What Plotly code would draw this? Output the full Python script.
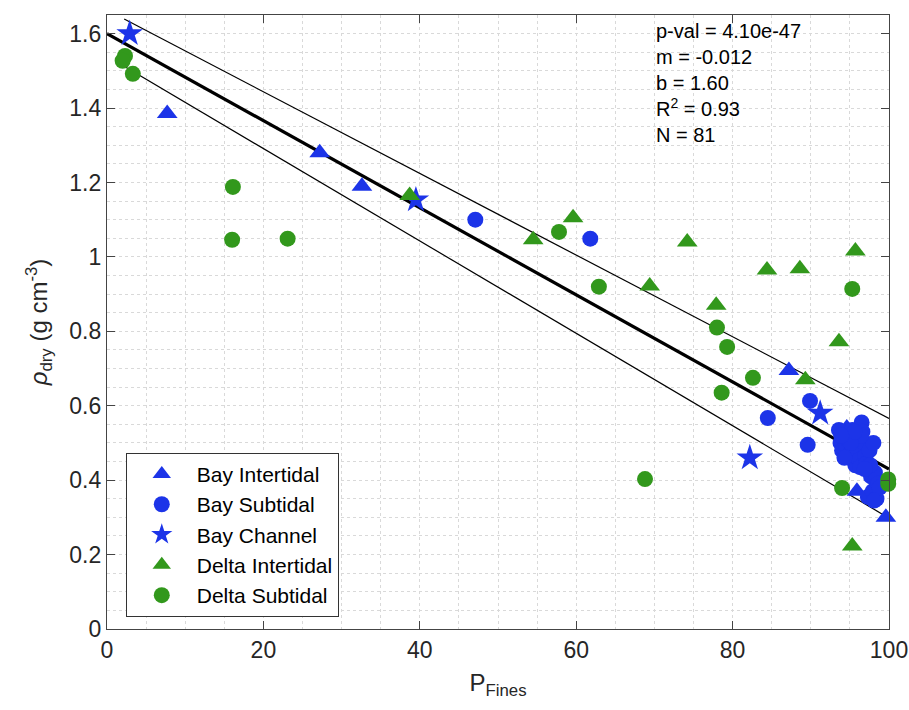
import plotly.graph_objects as go

# ---- data ----
bay_inter_x = [7.7, 27.2, 32.6, 87.2, 94.6, 95.9, 99.6]
bay_inter_y = [1.385, 1.28, 1.19, 0.695, 0.54, 0.37, 0.30]

bay_sub_x = [47.1, 61.8, 84.5, 89.9, 89.6,
             93.6, 93.8, 94.0, 94.2, 94.5, 94.8, 95.0, 95.3, 95.5, 95.7, 95.9, 96.0,
             96.2, 96.3, 96.5, 96.6, 96.8, 97.0, 97.1, 97.3, 97.5, 97.7, 97.9, 98.0,
             98.2, 98.4, 98.6, 98.8, 96.4, 95.1, 94.3, 97.6, 98.1, 96.9, 95.6, 93.9]
bay_sub_y = [1.10, 1.049, 0.567, 0.613, 0.495,
             0.535, 0.50, 0.48, 0.52, 0.49, 0.505, 0.47, 0.535, 0.46, 0.44, 0.51, 0.48,
             0.455, 0.435, 0.555, 0.53, 0.50, 0.465, 0.445, 0.355, 0.48, 0.41, 0.37, 0.50,
             0.42, 0.35, 0.39, 0.38, 0.52, 0.50, 0.46, 0.44, 0.345, 0.43, 0.53, 0.52]

bay_chan_x = [2.9, 39.5, 91.2, 82.2]
bay_chan_y = [1.60, 1.153, 0.58, 0.46]

delta_inter_x = [38.7, 54.5, 59.6, 69.4, 74.2, 77.9, 84.4, 88.6, 95.7, 93.6, 89.3, 95.3]
delta_inter_y = [1.165, 1.046, 1.105, 0.922, 1.04, 0.87, 0.965, 0.968, 1.016, 0.772, 0.67, 0.223]

delta_sub_x = [2.3, 2.0, 3.3, 16.1, 16.0, 23.1, 57.8, 62.9, 78.0, 79.3, 82.6, 78.6,
               68.8, 95.3, 94.0, 99.9, 99.9]
delta_sub_y = [1.54, 1.527, 1.492, 1.188, 1.046, 1.049, 1.067, 0.92, 0.81, 0.758, 0.675, 0.635,
               0.403, 0.914, 0.379, 0.402, 0.39]

fit_m = -0.0117
fit_b = 1.60
fit_x = [0, 100]
band_x = [2.2, 100]
band_upper = [1.639, 0.566]
band_lower = [1.512, 0.298]

stats_lines = ["p-val = 4.10e-47", "m = -0.012", "b = 1.60", "R<sup>2</sup> = 0.93", "N = 81"]

BLUE = "rgb(28,52,232)"
GREEN = "rgb(50,152,28)"
FONT = "Liberation Sans, Arial"

fig = go.Figure()

fig.add_trace(go.Scatter(x=band_x, y=band_upper, mode="lines",
                         line=dict(color="black", width=1.2), showlegend=False, hoverinfo="skip"))
fig.add_trace(go.Scatter(x=band_x, y=band_lower, mode="lines",
                         line=dict(color="black", width=1.2), showlegend=False, hoverinfo="skip"))
fig.add_trace(go.Scatter(x=fit_x, y=[fit_b + fit_m * v for v in fit_x], mode="lines",
                         line=dict(color="black", width=3.2), showlegend=False, hoverinfo="skip"))

def add(x, y, name, color, symbol, size):
    fig.add_trace(go.Scatter(x=x, y=y, mode="markers", name=name, cliponaxis=False,
                             marker=dict(color=color, symbol=symbol, size=size,
                                         line=dict(width=0))))

add(bay_inter_x, bay_inter_y, "Bay Intertidal", BLUE, "triangle-up", 18)
add(bay_sub_x, bay_sub_y, "Bay Subtidal", BLUE, "circle", 16)
add(bay_chan_x, bay_chan_y, "Bay Channel", BLUE, "star", 20)
add(delta_inter_x, delta_inter_y, "Delta Intertidal", GREEN, "triangle-up", 18)
add(delta_sub_x, delta_sub_y, "Delta Subtidal", GREEN, "circle", 16)

axis_common = dict(
    showline=True, linecolor="#444", linewidth=1.2, mirror="ticks",
    ticks="inside", ticklen=8, tickcolor="#444",
    showgrid=True, gridcolor="#d9d9d9", griddash="dot", gridwidth=1,
    zeroline=False, automargin=False, ticklabeloverflow="allow",
    tickfont=dict(family=FONT, size=23, color="#262626"),
)

fig.update_xaxes(range=[0, 100], dtick=20,
                 minor=dict(dtick=5, showgrid=True, gridcolor="#d9d9d9", griddash="dot"),
                 title=dict(text="P<sub>Fines</sub>", font=dict(family=FONT, size=24, color="#262626"), standoff=12),
                 **axis_common)
fig.update_yaxes(range=[0, 1.65], dtick=0.2, tickformat="~g",
                 minor=dict(dtick=0.05, showgrid=True, gridcolor="#d9d9d9", griddash="dot"),
                 title=dict(text="<i>ρ</i><sub>dry</sub> (g cm<sup>-3</sup>)", font=dict(family=FONT, size=24, color="#262626"), standoff=14),
                 **axis_common)

fig.add_annotation(xref="paper", yref="paper", x=0.70, y=0.995, xanchor="left", yanchor="top",
                   text="<br>".join(stats_lines), showarrow=False, align="left",
                   font=dict(family=FONT, size=20, color="black"))

fig.update_layout(
    width=909, height=710,
    margin=dict(l=107, r=20, t=15, b=81),
    plot_bgcolor="white", paper_bgcolor="white",
    legend=dict(x=0.024, y=0.287, xanchor="left", yanchor="top",
                bordercolor="#333", borderwidth=1, bgcolor="white",
                font=dict(family=FONT, size=21, color="black"),
                itemwidth=60, tracegroupgap=0),
)

fig.write_html("out.html", config={"displayModeBar": False},
               post_script="document.body.style.margin='0';document.body.style.overflow='hidden';")
